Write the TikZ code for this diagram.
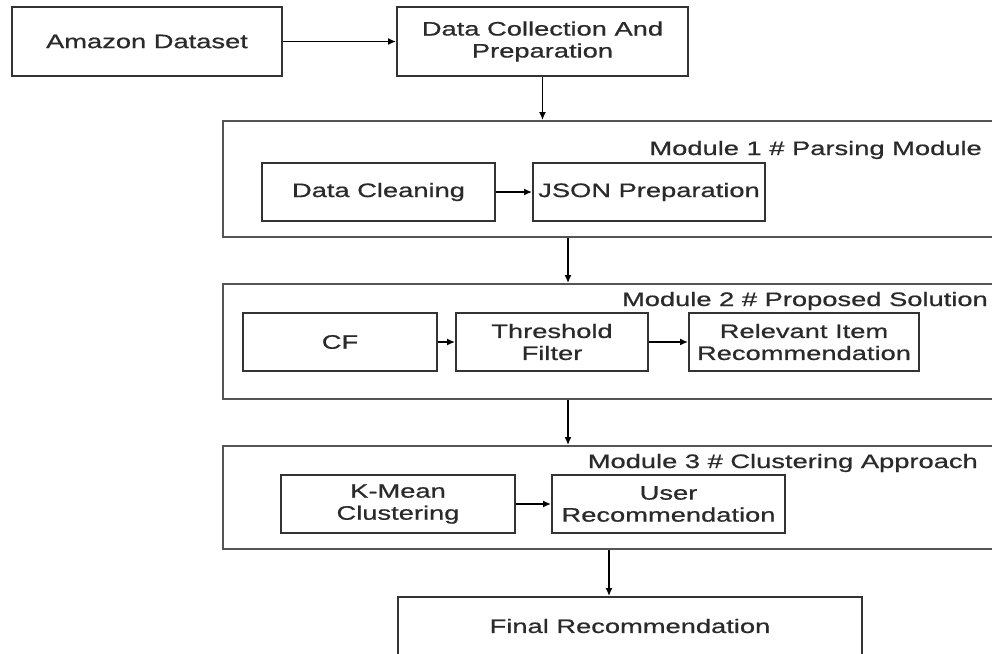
\documentclass[tikz,border=0pt]{standalone}
\usepackage{fontspec}
\setmainfont[FakeStretch=1.4,FakeBold=0.7]{Liberation Sans}
\usetikzlibrary{arrows.meta,calc}
\definecolor{ln}{HTML}{333333}
\definecolor{mln}{HTML}{555555}
\definecolor{txt}{HTML}{2A2A2A}
\begin{document}
\begin{tikzpicture}[x=1pt,y=-1pt,
  font=\fontsize{19.5pt}{22pt}\selectfont,
  box/.style={draw=ln,line width=2pt,text=txt,align=center,inner sep=0pt},
  module/.style={draw=mln,line width=2pt,inner sep=0pt},
  title/.style={text=txt,inner sep=0pt},
  arr/.style={draw=black,line width=1.4pt,-{Latex[length=8pt,width=7pt]}}]
\useasboundingbox (0,0) rectangle (992,653);
\clip (0,0) rectangle (992,653);
\fill[white] (0,0) rectangle (992,653);

% top row
\node[box,minimum width=270pt,minimum height=69pt] (amazon) at (147,41.5) {Amazon Dataset};
\node[box,minimum width=291pt,minimum height=69pt] (dcp) at (542.5,41.5) {Data Collection And\\Preparation};

% module 1
\node[module,minimum width=777pt,minimum height=116pt] (m1) at (611.5,179) {};
\node[title,anchor=base east] (t1) at (982,155) {Module 1 \# Parsing Module};
\node[box,minimum width=233pt,minimum height=58pt] (dclean) at (378.5,192) {Data Cleaning};
\node[box,minimum width=232pt,minimum height=58pt] (json) at (649,192) {JSON Preparation};

% module 2
\node[module,minimum width=777pt,minimum height=115pt] (m2) at (611.5,341.5) {};
\node[title,anchor=base east] (t2) at (988,306) {Module 2 \# Proposed Solution};
\node[box,minimum width=194pt,minimum height=58pt] (cf) at (340,342) {CF};
\node[box,minimum width=192pt,minimum height=58pt] (thresh) at (552,342) {Threshold\\Filter};
\node[box,minimum width=230pt,minimum height=58pt] (relev) at (804,342) {Relevant Item\\Recommendation};

% module 3
\node[module,minimum width=777pt,minimum height=103pt] (m3) at (611.5,497.5) {};
\node[title,anchor=base east] (t3) at (978,468) {Module 3 \# Clustering Approach};
\node[box,minimum width=234pt,minimum height=58pt] (kmean) at (398,504) {K-Mean\\Clustering};
\node[box,minimum width=233pt,minimum height=58pt] (user) at (668.5,504) {User\\Recommendation};

% final
\node[box,minimum width=464pt,minimum height=58pt] (final) at (630,626) {Final Recommendation};

% connectors
\draw[arr] (amazon.east) -- (dcp.west);
\draw[arr] (dcp.south) -- (dcp.south |- m1.north);
\draw[arr] (dclean.east) -- (json.west);
\draw[arr] ([xshift=346pt]m1.south west) -- ([xshift=346pt]m2.north west);
\draw[arr] (cf.east) -- (thresh.west);
\draw[arr] (thresh.east) -- (relev.west);
\draw[arr] ([xshift=346pt]m2.south west) -- ([xshift=346pt]m3.north west);
\draw[arr] (kmean.east) -- (user.west);
\draw[arr] ([xshift=387pt]m3.south west) -- ([xshift=212pt]final.north west);
\end{tikzpicture}
\end{document}
